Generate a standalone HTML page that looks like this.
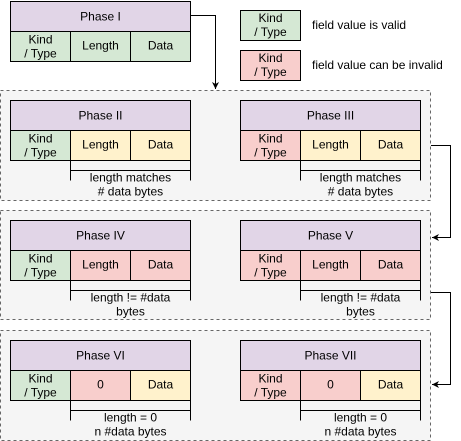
<!DOCTYPE html>
<html><head><meta charset="utf-8"><style>
html,body{margin:0;padding:0;background:#fff}
svg{display:block}
text{font-family:"Liberation Sans",sans-serif;font-size:12px;fill:#000}
</style></head><body>
<svg id="s" width="461" height="441" viewBox="0 0 461 441" xmlns="http://www.w3.org/2000/svg">
<defs><marker id="ar" markerWidth="8" markerHeight="8" refX="7" refY="4" orient="auto" markerUnits="userSpaceOnUse"><path d="M0,0.5 L7,4 L0,7.5 L2,4 Z" fill="#000"/></marker></defs>
<rect x="0.5" y="90.5" width="430" height="110" fill="#f5f5f5" stroke="#666" stroke-dasharray="3,3"/>
<rect x="0.5" y="210.5" width="430" height="109" fill="#f5f5f5" stroke="#666" stroke-dasharray="3,3"/>
<rect x="0.5" y="330.5" width="430" height="110" fill="#f5f5f5" stroke="#666" stroke-dasharray="3,3"/>
<path d="M190,15.5 H215.5 V89" fill="none" stroke="#000" marker-end="url(#ar)"/>
<path d="M431,145.5 H450.5 V237.5 H432" fill="none" stroke="#000" marker-end="url(#ar)"/>
<path d="M431,292.5 H450.5 V384.5 H432" fill="none" stroke="#000" marker-end="url(#ar)"/>
<g>
<rect x="240.5" y="10.5" width="60" height="30" fill="#d5e8d4" stroke="#000"/>
<text x="270.5" y="22" text-anchor="middle">Kind</text><text x="270.5" y="36" text-anchor="middle">/ Type</text>
<text x="312" y="29">field value is valid</text>
<rect x="240.5" y="50.5" width="60" height="30" fill="#f8cecc" stroke="#000"/>
<text x="270.5" y="62" text-anchor="middle">Kind</text><text x="270.5" y="76" text-anchor="middle">/ Type</text>
<text x="312" y="69">field value can be invalid</text>
</g>
</svg>
<script>
const G='#d5e8d4',R='#f8cecc',Y='#fff2cc';
const phases=[
 {n:'Phase I',x:10,y:1,c:[G,G,G],l:'Length',note:null},
 {n:'Phase II',x:10,y:100,c:[G,Y,Y],l:'Length',note:['length matches','# data bytes']},
 {n:'Phase III',x:240,y:100,c:[R,Y,Y],l:'Length',note:['length matches','# data bytes']},
 {n:'Phase IV',x:10,y:220,c:[G,R,R],l:'Length',note:['length != #data','bytes']},
 {n:'Phase V',x:240,y:220,c:[R,R,R],l:'Length',note:['length != #data','bytes']},
 {n:'Phase VI',x:10,y:340,c:[G,R,Y],l:'0',note:['length = 0','n #data bytes']},
 {n:'Phase VII',x:240,y:340,c:[R,R,Y],l:'0',note:['length = 0','n #data bytes']}
];
const s=document.getElementById('s');
const NS='http://www.w3.org/2000/svg';
function mk(t,a,p){const e=document.createElementNS(NS,t);for(const k in a)e.setAttribute(k,a[k]);(p||s).appendChild(e);return e;}
function tx(x,y,str,p){const e=mk('text',{x:x,y:y,'text-anchor':'middle'},p);e.textContent=str;return e;}
phases.forEach(ph=>{
 const g=mk('g',{});
 
 
 const x=ph.x+0.5,y=ph.y+0.5;
 const t=mk('rect',{x:x,y:y,width:180,height:30,fill:'#e1d5e7',stroke:'#000'},g);
 
 
 tx(x+90,y+19,ph.n,g);
 const labels=[['Kind','/ Type'],[ph.l],['Data']];
 for(let i=0;i<3;i++){
  const r=mk('rect',{x:x+60*i,y:y+30,width:60,height:30,fill:ph.c[i],stroke:'#000'},g);
  
  
  if(labels[i].length==2){tx(x+30,y+42,labels[i][0],g);tx(x+30,y+56,labels[i][1],g);}
  else tx(x+30+60*i,y+48,labels[i][0],g);
 }
 if(ph.note){
  const b=mk('path',{d:`M${x+60},${y+60} V${y+80} M${x+60},${y+70} H${x+180} M${x+180},${y+60} V${y+80}`,fill:'none',stroke:'#000'},g);
  
  
  tx(x+120,y+81,ph.note[0],g);tx(x+120,y+95,ph.note[1],g);
 }
});
</script>
</body></html>
